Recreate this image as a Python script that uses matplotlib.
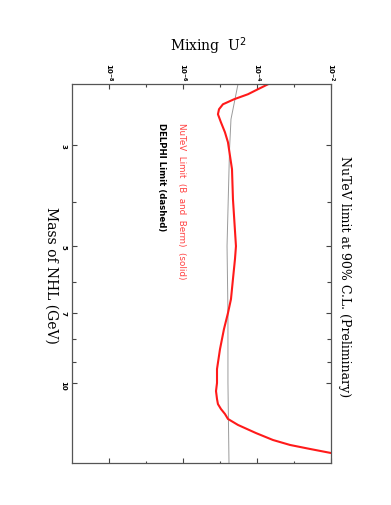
import matplotlib
matplotlib.use("Agg")
import matplotlib.pyplot as plt
from matplotlib.ticker import FixedLocator, NullFormatter, FixedFormatter

# NuTeV limit (solid red): mass of NHL (GeV) vs mixing U^2
nutev_mass = [2.203, 2.259, 2.317, 2.377, 2.438, 2.500, 2.564, 2.671, 2.809, 2.955,
              3.061, 3.387, 3.943, 5.002, 5.341, 5.909, 6.540, 7.020, 7.613, 8.426,
              9.320, 10.00, 10.42, 10.85, 11.13, 11.41, 11.70, 12.00, 12.37, 12.89,
              13.35, 13.69, 13.97, 14.26]
nutev_u2 = [1.98e-4, 1.06e-4, 5.7e-5, 2.39e-5, 1.20e-5, 9.4e-6, 8.8e-6, 1.06e-5, 1.36e-5, 1.64e-5,
            1.75e-5, 2.11e-5, 2.24e-5, 2.70e-5, 2.54e-5, 2.24e-5, 1.98e-5, 1.64e-5, 1.28e-5, 1.0e-5,
            8.3e-6, 8.3e-6, 7.8e-6, 8.3e-6, 8.8e-6, 1.06e-5, 1.36e-5, 1.64e-5, 3.06e-5, 9.4e-5,
            2.70e-4, 7.8e-4, 2.70e-3, 1.0e-2]

# DELPHI limit (thin grey)
delphi_mass = [2.203, 2.630, 3.06, 5.0, 7.02, 10.0, 15.0]
delphi_u2 = [3.06e-5, 1.98e-5, 1.81e-5, 1.55e-5, 1.64e-5, 1.64e-5, 1.75e-5]

u2_major = [1e-8, 1e-6, 1e-4, 1e-2]
u2_labels = [r"$\mathbf{10^{-8}}$", r"$\mathbf{10^{-6}}$", r"$\mathbf{10^{-4}}$", r"$\mathbf{10^{-2}}$"]
u2_minor = [1e-7, 1e-5, 1e-3]
mass_major = [3, 5, 7, 10]
mass_labels = ["3", "5", "7", "10"]
mass_minor = [4, 6, 8, 9]

W, H = 391, 506
fig = plt.figure(figsize=(W / 100, H / 100), dpi=100)
ax = fig.add_axes([72 / W, 1 - 464 / H, (331 - 72) / W, (464 - 85) / H])

ax.plot(delphi_u2, delphi_mass, color="#9a9a9a", lw=0.7)
ax.plot(nutev_u2, nutev_mass, color="#ff1a1a", lw=1.5)

ax.set_xscale("log")
ax.set_yscale("log")
ax.set_xlim(1e-9, 1e-2)
ax.set_ylim(15.0, 2.2)

ax.xaxis.set_major_locator(FixedLocator(u2_major))
ax.xaxis.set_major_formatter(FixedFormatter(u2_labels))
ax.xaxis.set_minor_locator(FixedLocator(u2_minor))
ax.xaxis.set_minor_formatter(NullFormatter())
ax.yaxis.set_major_locator(FixedLocator(mass_major))
ax.yaxis.set_major_formatter(FixedFormatter(mass_labels))
ax.yaxis.set_minor_locator(FixedLocator(mass_minor))
ax.yaxis.set_minor_formatter(NullFormatter())

ax.tick_params(axis="x", which="both", direction="in", top=True, bottom=True,
               labeltop=True, labelbottom=False, colors="#444444", width=0.8)
ax.tick_params(axis="x", which="major", length=3.6, labelsize=5, pad=2, labelrotation=-90)
ax.tick_params(axis="x", which="minor", length=1.8)
ax.tick_params(axis="y", which="both", direction="in", left=True, right=True,
               labelleft=True, labelright=False, colors="#444444", width=0.8)
ax.tick_params(axis="y", which="major", length=3.6, labelsize=5, pad=4, labelrotation=-90)
ax.tick_params(axis="y", which="minor", length=3.0)
for lab in ax.get_xticklabels() + ax.get_yticklabels():
    lab.set_color("black")
    lab.set_fontweight("bold")
for s in ax.spines.values():
    s.set_color("#555555")
    s.set_linewidth(0.9)

fig.text(208 / W, 1 - 46 / H, r"Mixing  U$^2$", family="DejaVu Serif", fontsize=10,
         ha="center", va="center")
fig.text(345 / W, 1 - 277 / H, "NuTeV limit at 90% C.L. (Preliminary)", family="DejaVu Serif",
         fontsize=9, rotation=-90, ha="center", va="center")
fig.text(51 / W, 1 - 275 / H, "Mass of NHL (GeV)", family="DejaVu Serif",
         fontsize=10, rotation=-90, ha="center", va="center")
fig.text(182 / W, 1 - 123 / H, "NuTeV  Limit  (B  and  Berm)  (solid)", family="DejaVu Sans",
         fontsize=6.3, rotation=-90, ha="center", va="top", color="#ff4040")
fig.text(162 / W, 1 - 123 / H, "DELPHI Limit (dashed)", family="DejaVu Sans", fontweight="bold",
         fontsize=6.2, rotation=-90, ha="center", va="top", color="black")

fig.savefig("out.png", dpi=100)
